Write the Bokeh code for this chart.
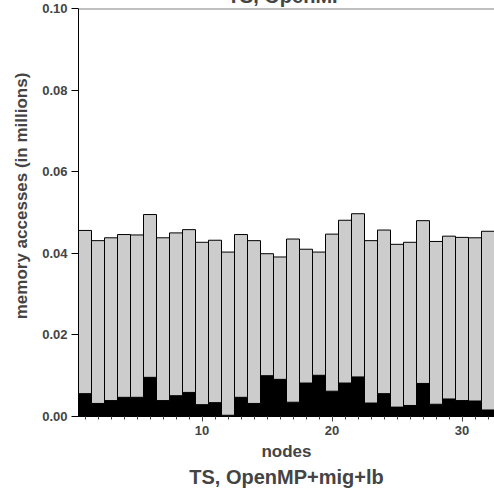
from bokeh.plotting import figure
from bokeh.models import FixedTicker, Span, Title, NumeralTickFormatter
from bokeh.embed import file_html
from bokeh.resources import INLINE

nodes = list(range(1, 33))
total = [0.0456, 0.0431, 0.0438, 0.0446, 0.0445, 0.0495, 0.0438, 0.0450,
         0.0458, 0.0427, 0.0432, 0.0403, 0.0446, 0.0431, 0.0399, 0.0391,
         0.0435, 0.0410, 0.0403, 0.0447, 0.0481, 0.0497, 0.0431, 0.0457,
         0.0422, 0.0427, 0.0480, 0.0429, 0.0442, 0.0439, 0.0438, 0.0454]
local = [0.0056, 0.0032, 0.0039, 0.0047, 0.0047, 0.0096, 0.0039, 0.0051,
         0.0059, 0.0029, 0.0034, 0.0003, 0.0047, 0.0032, 0.0100, 0.0091,
         0.0035, 0.0082, 0.0101, 0.0062, 0.0082, 0.0097, 0.0033, 0.0056,
         0.0023, 0.0027, 0.0081, 0.0030, 0.0043, 0.0039, 0.0038, 0.0016]
y_ticks = [0.0, 0.02, 0.04, 0.06, 0.08, 0.10]
x_ticks = [10, 20, 30]

FONT = "Liberation Sans"

p = figure(width=494, height=519, x_range=(0.5, 32.5), y_range=(0, 0.1),
           output_backend="svg", toolbar_location=None,
           min_border_left=78, min_border_right=0, min_border_top=35,
           min_border_bottom=0,
           title="TS, OpenMP")
p.styles = {"margin-top": "-27px"}
p.title.align = "center"
p.title.text_font = FONT
p.title.text_font_size = "20px"
p.title.text_font_style = "bold"
p.title.standoff = 3
p.title.offset = 0

p.vbar(x=nodes, bottom=0, top=local, width=1.0,
       fill_color="black", line_color="black", line_width=1)
p.vbar(x=nodes, bottom=local, top=total, width=1.0,
       fill_color="#cccccc", line_color="black", line_width=1)

p.outline_line_color = None
p.grid.grid_line_color = None
p.add_layout(Span(location=0.1, dimension="width", line_color="#808080", line_width=2))

ya = p.yaxis[0]
ya.ticker = FixedTicker(ticks=y_ticks)
ya.formatter = NumeralTickFormatter(format="0.00")
ya.axis_label = "\u00a0" * 7 + "memory accesses (in millions)"
ya.axis_label_text_font = FONT
ya.axis_label_text_font_size = "17px"
ya.axis_label_text_font_style = "bold"
ya.axis_label_standoff = 8
ya.major_label_text_font = FONT
ya.major_label_text_font_size = "13px"
ya.major_label_text_font_style = "bold"
ya.major_tick_out = 7
ya.major_tick_in = 0
ya.minor_tick_line_color = None
ya.axis_line_color = "black"
ya.major_label_standoff = 4

xa = p.xaxis[0]
xa.ticker = FixedTicker(ticks=x_ticks, minor_ticks=nodes)
xa.axis_label = "nodes"
xa.axis_label_text_font = FONT
xa.axis_label_text_font_size = "17px"
xa.axis_label_text_font_style = "bold"
xa.axis_label_standoff = 4
xa.major_label_text_font = FONT
xa.major_label_text_font_size = "13px"
xa.major_label_text_font_style = "bold"
xa.major_tick_out = 5
xa.major_tick_in = 0
xa.minor_tick_out = 3
xa.minor_tick_in = 0
xa.major_label_standoff = 4
xa.major_tick_line_color = "#444444"
xa.minor_tick_line_color = "#444444"

bt = Title(text="TS, OpenMP+mig+lb", align="center", text_font=FONT,
           text_font_size="20px", text_font_style="bold", standoff=1, offset=0)
p.add_layout(bt, "below")
p.min_border_bottom = 76

open("out.html", "w").write(file_html(p, INLINE))
